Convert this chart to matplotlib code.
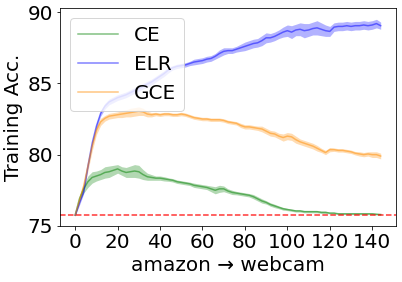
import numpy as np
import matplotlib
matplotlib.use("Agg")
import matplotlib.pyplot as plt

epochs = np.arange(0, 145, 2)

ce_mean = [75.75, 76.9, 77.6, 78.1, 78.4, 78.5, 78.6, 78.75, 78.8, 78.9,
           79.0, 78.85, 78.75, 78.8, 78.85, 78.8, 78.6, 78.45, 78.4, 78.35,
           78.35, 78.3, 78.25, 78.2, 78.1, 78.05, 78.0, 77.95, 77.85, 77.8,
           77.75, 77.7, 77.6, 77.5, 77.6, 77.6, 77.45, 77.35, 77.3, 77.25,
           77.2, 77.15, 77.05, 76.9, 76.75, 76.65, 76.5, 76.4, 76.3, 76.2,
           76.15, 76.1, 76.05, 76.05, 76.0, 76.0, 76.0, 76.0, 75.95, 75.95,
           75.9, 75.9, 75.85, 75.85, 75.85, 75.85, 75.85, 75.85, 75.85, 75.85,
           75.85, 75.82, 75.8]
ce_std = [0.05, 0.2, 0.3, 0.4, 0.4, 0.35, 0.35, 0.4, 0.4, 0.35,
          0.3, 0.3, 0.35, 0.4, 0.45, 0.45, 0.35, 0.25, 0.2, 0.15,
          0.15, 0.15, 0.12, 0.12, 0.12, 0.12, 0.12, 0.12, 0.15, 0.15,
          0.15, 0.15, 0.2, 0.25, 0.25, 0.2, 0.15, 0.15, 0.12, 0.12,
          0.12, 0.12, 0.15, 0.15, 0.15, 0.12, 0.12, 0.12, 0.1, 0.1,
          0.08, 0.08, 0.08, 0.08, 0.08, 0.08, 0.08, 0.08, 0.08, 0.08,
          0.06, 0.06, 0.06, 0.06, 0.06, 0.06, 0.06, 0.06, 0.06, 0.06,
          0.06, 0.06, 0.06]

gce_mean = [75.75, 76.8, 77.8, 79.2, 80.6, 81.7, 82.3, 82.55, 82.7, 82.75,
            82.8, 82.85, 82.9, 82.95, 83.0, 83.05, 83.0, 82.85, 82.8, 82.85,
            82.8, 82.85, 82.85, 82.8, 82.8, 82.85, 82.8, 82.7, 82.6, 82.55,
            82.5, 82.5, 82.45, 82.45, 82.45, 82.4, 82.3, 82.25, 82.2, 82.05,
            81.95, 81.95, 81.9, 81.85, 81.8, 81.65, 81.5, 81.45, 81.3, 81.2,
            81.3, 81.25, 81.05, 80.9, 80.8, 80.7, 80.6, 80.45, 80.3, 80.15,
            80.35, 80.35, 80.3, 80.3, 80.25, 80.2, 80.1, 80.05, 80.0, 80.05,
            80.0, 80.0, 79.9]
gce_std = [0.05, 0.2, 0.3, 0.35, 0.35, 0.3, 0.25, 0.2, 0.2, 0.2,
           0.2, 0.25, 0.25, 0.3, 0.3, 0.3, 0.25, 0.2, 0.15, 0.12,
           0.12, 0.12, 0.12, 0.12, 0.12, 0.12, 0.12, 0.12, 0.12, 0.12,
           0.12, 0.12, 0.12, 0.12, 0.12, 0.12, 0.12, 0.12, 0.12, 0.15,
           0.15, 0.15, 0.15, 0.15, 0.2, 0.2, 0.2, 0.2, 0.2, 0.25,
           0.25, 0.25, 0.25, 0.2, 0.2, 0.2, 0.2, 0.2, 0.15, 0.15,
           0.15, 0.12, 0.12, 0.12, 0.12, 0.12, 0.12, 0.15, 0.15, 0.15,
           0.2, 0.2, 0.2]

elr_mean = [75.75, 76.6, 77.4, 79.2, 80.8, 82.0, 82.9, 83.4, 83.7, 83.85,
            84.0, 84.1, 84.2, 84.35, 84.5, 84.65, 84.8, 84.95, 85.1, 85.3,
            85.5, 85.7, 85.95, 86.1, 86.2, 86.25, 86.3, 86.4, 86.5, 86.55,
            86.6, 86.7, 86.75, 86.9, 87.1, 87.25, 87.3, 87.3, 87.4, 87.5,
            87.6, 87.7, 87.8, 87.85, 88.0, 88.2, 88.2, 88.3, 88.45, 88.6,
            88.7, 88.6, 88.75, 88.8, 88.7, 88.75, 88.85, 88.9, 88.8, 88.7,
            88.65, 88.95, 89.0, 89.0, 89.05, 89.0, 89.05, 89.05, 89.1, 89.05,
            89.1, 89.2, 89.05]
elr_std = [0.05, 0.15, 0.15, 0.2, 0.2, 0.2, 0.2, 0.2, 0.2, 0.2,
           0.2, 0.2, 0.2, 0.2, 0.2, 0.2, 0.2, 0.2, 0.2, 0.2,
           0.2, 0.2, 0.2, 0.15, 0.15, 0.15, 0.15, 0.15, 0.2, 0.2,
           0.2, 0.2, 0.2, 0.2, 0.25, 0.25, 0.2, 0.2, 0.2, 0.25,
           0.3, 0.3, 0.3, 0.3, 0.35, 0.35, 0.3, 0.3, 0.3, 0.35,
           0.4, 0.45, 0.4, 0.45, 0.5, 0.45, 0.45, 0.5, 0.45, 0.4,
           0.35, 0.3, 0.3, 0.3, 0.3, 0.3, 0.3, 0.3, 0.3, 0.3,
           0.3, 0.3, 0.25]

baseline = 75.75

series = [
    ("CE", ce_mean, ce_std, "green"),
    ("ELR", elr_mean, elr_std, "blue"),
    ("GCE", gce_mean, gce_std, "darkorange"),
]

plt.rcParams.update({'font.size': 20})

fig = plt.figure(figsize=(402 / 72, 282 / 72), dpi=72)
ax = fig.add_axes([0.149, 0.199, 0.836, 0.773])

for name, m, s, c in series:
    m = np.array(m)
    s = np.array(s)
    ax.plot(epochs, m, color=c, alpha=0.5, linewidth=1.5, label=name)
    ax.fill_between(epochs, m - s, m + s, color=c, alpha=0.3, linewidth=0)

ax.axhline(baseline, color='red', linestyle='--', linewidth=1.5, alpha=0.8)

ax.set_xlim(-7.2, 151.2)
ax.set_ylim(75, 90.3)
ax.set_xticks([0, 20, 40, 60, 80, 100, 120, 140])
ax.set_yticks([75, 80, 85, 90])
ax.set_xlabel('amazon → webcam')
ax.set_ylabel('Training Acc.')
ax.legend(loc='upper left')

fig.savefig('out.png', dpi=72)
